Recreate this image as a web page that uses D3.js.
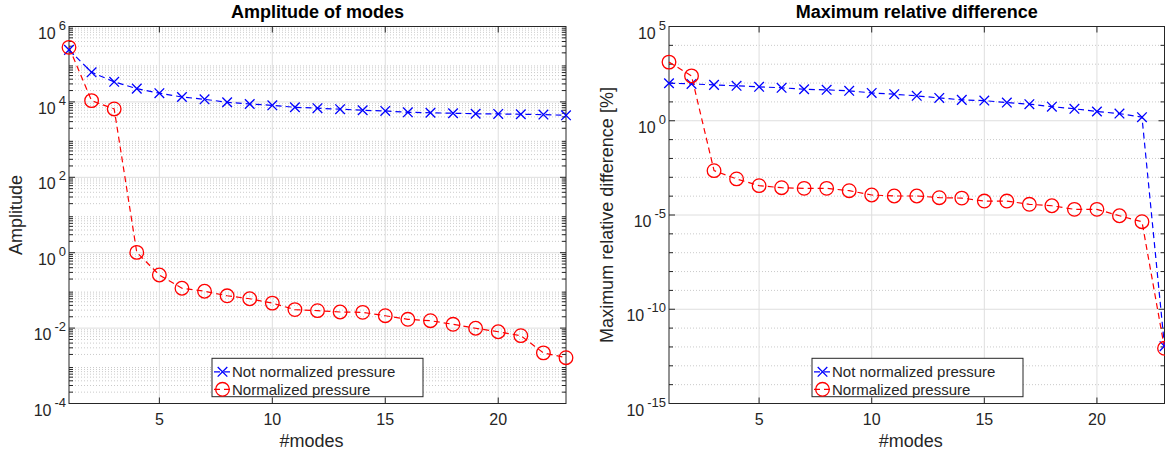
<!DOCTYPE html>
<html>
<head>
<meta charset="utf-8">
<script src="https://cdn.jsdelivr.net/npm/d3@7"></script>
<style>
  body { margin: 0; background: #fff; }
  text { font-family: "Liberation Sans", Arial, Helvetica, sans-serif; fill: #262626; }
</style>
</head>
<body>
<svg id="chart" width="1165" height="457"></svg>
<script>
// values
const modes = [1, 2, 3, 4, 5, 6, 7, 8, 9, 10, 11, 12, 13, 14, 15, 16, 17, 18, 19, 20, 21, 22, 23];

const ampNotNorm = [2.4e5, 6.1e4, 3.4e4, 2.25e4, 1.7e4, 1.35e4, 1.17e4, 9.8e3, 8.8e3, 8.1e3, 7.2e3, 6.8e3,
  6.4e3, 6.0e3, 5.75e3, 5.3e3, 5.15e3, 5.0e3, 4.85e3, 4.8e3, 4.7e3, 4.6e3, 4.4e3];
const ampNorm = [2.8e5, 1.08e4, 6.5e3, 1.02, 0.256, 0.114, 0.095, 0.072, 0.060, 0.046, 0.031, 0.029,
  0.0267, 0.0262, 0.0213, 0.0171, 0.0157, 0.0126, 0.0099, 0.0080, 0.0063, 0.0022, 0.00164];

const diffNotNorm = [98, 90, 80, 71, 63, 56, 47, 43.5, 38.5, 30, 25.6, 20.9,
  16.3, 12.8, 11.7, 9.2, 7.6, 5.6, 4.3, 3.1, 2.4, 1.55, 1.1e-12];
const diffNorm = [1290, 240, 2.25e-3, 8.2e-4, 3.6e-4, 2.8e-4, 2.6e-4, 2.6e-4, 1.95e-4, 1.15e-4, 1.02e-4, 1.02e-4,
  8.3e-5, 7.9e-5, 5.5e-5, 5.5e-5, 3.7e-5, 3.1e-5, 2.0e-5, 2.0e-5, 9.1e-6, 4.4e-6, 8.5e-13];

const xTicks = [5, 10, 15, 20];
const ampExps = [-4, -2, 0, 2, 4, 6];
const diffExps = [-15, -10, -5, 0, 5];
const legendLabels = ["Not normalized pressure", "Normalized pressure"];

const BLUE = "#0000ff", RED = "#ff0000", AXC = "#262626";

var svg = d3.select("#chart");

function drawPanel(opts) {
  var w = opts.x1 - opts.x0,
      h = opts.y1 - opts.y0;

  var g = svg.append("g")
    .attr("transform", "translate(" + opts.x0 + "," + opts.y0 + ")");

  var x = d3.scaleLinear().domain([1, 23]).range([0, w]);
  var y = d3.scaleLog().domain(opts.yDomain).range([h, 0]);

  var majorVals = opts.exps.map(function(e) { return Math.pow(10, e); });

  // minor grid (dotted)
  g.selectAll(".minorgrid").data(opts.minor).join("line")
    .attr("x1", 0).attr("x2", w)
    .attr("y1", function(d) { return y(d); }).attr("y2", function(d) { return y(d); })
    .attr("stroke", "#bdbdbd").attr("stroke-width", 0.8)
    .attr("stroke-dasharray", "1,2");

  // major grid
  g.selectAll(".ygrid").data(majorVals).join("line")
    .attr("x1", 0).attr("x2", w)
    .attr("y1", function(d) { return y(d); }).attr("y2", function(d) { return y(d); })
    .attr("stroke", "#dedede").attr("stroke-width", 1);
  g.selectAll(".xgrid").data(xTicks).join("line")
    .attr("x1", function(d) { return x(d); }).attr("x2", function(d) { return x(d); })
    .attr("y1", 0).attr("y2", h)
    .attr("stroke", "#dedede").attr("stroke-width", 1);

  // box
  g.append("rect")
    .attr("x", 0).attr("y", 0).attr("width", w).attr("height", h)
    .attr("fill", "none").attr("stroke", AXC).attr("stroke-width", 1);

  // ticks, inward on all four sides
  var tk = g.append("g").attr("stroke", AXC).attr("stroke-width", 1);
  xTicks.forEach(function(t) {
    tk.append("line").attr("x1", x(t)).attr("x2", x(t)).attr("y1", h).attr("y2", h - 6);
    tk.append("line").attr("x1", x(t)).attr("x2", x(t)).attr("y1", 0).attr("y2", 6);
  });
  majorVals.forEach(function(v) {
    tk.append("line").attr("x1", 0).attr("x2", 6).attr("y1", y(v)).attr("y2", y(v));
    tk.append("line").attr("x1", w).attr("x2", w - 6).attr("y1", y(v)).attr("y2", y(v));
  });
  opts.minor.forEach(function(v) {
    tk.append("line").attr("x1", 0).attr("x2", 4).attr("y1", y(v)).attr("y2", y(v));
    tk.append("line").attr("x1", w).attr("x2", w - 4).attr("y1", y(v)).attr("y2", y(v));
  });

  // x tick labels
  g.selectAll(".xlab").data(xTicks).join("text")
    .attr("x", function(d) { return x(d); })
    .attr("y", h + 21)
    .attr("text-anchor", "middle")
    .style("font-size", "16px")
    .text(function(d) { return d; });

  // y tick labels 10^n
  opts.exps.forEach(function(e) {
    var t = g.append("text")
      .attr("x", -3)
      .attr("y", y(Math.pow(10, e)) + 12)
      .attr("text-anchor", "end")
      .style("font-size", "16px");
    t.append("tspan").text("10");
    t.append("tspan").attr("dx", 3).attr("dy", -9).style("font-size", "13px").text(e);
  });

  // titles and labels
  g.append("text")
    .attr("x", w / 2).attr("y", -9)
    .attr("text-anchor", "middle")
    .style("font-size", "18px").style("font-weight", "bold").style("fill", "#000")
    .text(opts.title);

  g.append("text")
    .attr("x", w / 2 - 6).attr("y", h + 43)
    .attr("text-anchor", "middle")
    .style("font-size", "18px")
    .text("#modes");

  g.append("text")
    .attr("transform", "translate(" + opts.ylabX + "," + (h / 2) + ") rotate(-90)")
    .attr("text-anchor", "middle")
    .style("font-size", "18px")
    .text(opts.ylabel);

  // data
  var line = d3.line()
    .x(function(d) { return x(d.m); })
    .y(function(d) { return y(d.v); });

  var blue = modes.map(function(m, i) { return {m: m, v: opts.blue[i]}; });
  var red = modes.map(function(m, i) { return {m: m, v: opts.red[i]}; });

  g.append("path").datum(blue).attr("d", line)
    .attr("fill", "none").attr("stroke", BLUE).attr("stroke-width", 1.2)
    .attr("stroke-dasharray", "6,4");
  g.append("path").datum(red).attr("d", line)
    .attr("fill", "none").attr("stroke", RED).attr("stroke-width", 1.2)
    .attr("stroke-dasharray", "6,4");

  g.selectAll(".xm").data(blue).join("path")
    .attr("transform", function(d) { return "translate(" + x(d.m) + "," + y(d.v) + ")"; })
    .attr("d", "M-4.8,-4.8L4.8,4.8M-4.8,4.8L4.8,-4.8")
    .attr("stroke", BLUE).attr("stroke-width", 1.3).attr("fill", "none");

  g.selectAll(".om").data(red).join("circle")
    .attr("cx", function(d) { return x(d.m); })
    .attr("cy", function(d) { return y(d.v); })
    .attr("r", 6.8)
    .attr("fill", "none").attr("stroke", RED).attr("stroke-width", 1.3);

  // legend
  var lg = g.append("g").attr("transform", "translate(143," + (358.3 - opts.y0) + ")");
  lg.append("rect")
    .attr("width", 211).attr("height", 38.4)
    .attr("fill", "#fff").attr("stroke", AXC).attr("stroke-width", 1);

  var rows = [13.5, 31];
  [BLUE, RED].forEach(function(c, i) {
    lg.append("line")
      .attr("x1", 2).attr("x2", 19).attr("y1", rows[i]).attr("y2", rows[i])
      .attr("stroke", c).attr("stroke-width", 1.2).attr("stroke-dasharray", "6,4");
    if (i === 0) {
      lg.append("path")
        .attr("transform", "translate(10.5," + rows[i] + ")")
        .attr("d", "M-4.8,-4.8L4.8,4.8M-4.8,4.8L4.8,-4.8")
        .attr("stroke", c).attr("stroke-width", 1.3);
    } else {
      lg.append("circle")
        .attr("cx", 10.5).attr("cy", rows[i]).attr("r", 6.8)
        .attr("fill", "none").attr("stroke", c).attr("stroke-width", 1.3);
    }
    lg.append("text")
      .attr("x", 20).attr("y", rows[i] + 5.5)
      .style("font-size", "15px")
      .text(legendLabels[i]);
  });
}

// minor tick positions
var ampMinor = [];
for (var k = -4; k < 6; k++) {
  for (var m = 2; m < 10; m++) ampMinor.push(m * Math.pow(10, k));
}
var diffMinor = [];
for (var k2 = -15; k2 <= 5; k2++) {
  if (k2 % 5 !== 0) diffMinor.push(Math.pow(10, k2));
}

drawPanel({
  x0: 69, x1: 566, y0: 26.5, y1: 403.5,
  yDomain: [1e-4, 1e6], exps: ampExps, minor: ampMinor,
  blue: ampNotNorm, red: ampNorm,
  title: "Amplitude of modes", ylabel: "Amplitude", ylabX: -47
});

drawPanel({
  x0: 669, x1: 1164.5, y0: 26.5, y1: 403.5,
  yDomain: [1e-15, 1e5], exps: diffExps, minor: diffMinor,
  blue: diffNotNorm, red: diffNorm,
  title: "Maximum relative difference", ylabel: "Maximum relative difference [%]", ylabX: -56
});
</script>
</body>
</html>
